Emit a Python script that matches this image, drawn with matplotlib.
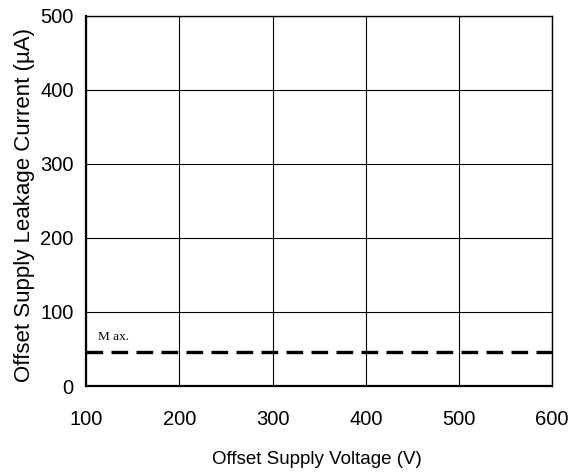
import matplotlib
matplotlib.use("Agg")
import matplotlib.pyplot as plt

# data
voltage_range = [100, 600]
x_ticks = [100, 200, 300, 400, 500, 600]
y_ticks = [0, 100, 200, 300, 400, 500]
max_voltage = [100, 600]
max_current = [46, 46]

plt.rcParams["font.family"] = ["Liberation Sans", "DejaVu Sans"]

fig = plt.figure(figsize=(5.74, 4.76), dpi=100)
ax = fig.add_axes([0.150, 0.189, 0.812, 0.778])

ax.plot(max_voltage, max_current, color="black", linewidth=2.4,
        linestyle=(0, (5, 2.5)), zorder=3)
ax.text(113, 58, "M ax.", fontsize=9.5, family="Liberation Serif", va="bottom")

ax.set_xlim(voltage_range)
ax.set_ylim(0, 500)
ax.set_xticks(x_ticks)
ax.set_yticks(y_ticks)
ax.grid(True, color="black", linewidth=0.8)
ax.tick_params(length=0, labelsize=14.5)
ax.tick_params(axis="x", pad=17)
ax.tick_params(axis="y", pad=9)
for side in ["left", "bottom"]:
    ax.spines[side].set_linewidth(1.6)
for side in ["right", "top"]:
    ax.spines[side].set_linewidth(1.0)

ax.set_xlabel("Offset Supply Voltage (V)", fontsize=13.5)
ax.xaxis.set_label_coords(0.495, -0.176)
ax.set_ylabel("Offset Supply Leakage Current (\u00b5A)", fontsize=16)
ax.yaxis.set_label_coords(-0.109, 0.49)

fig.savefig("out.png", dpi=100)
